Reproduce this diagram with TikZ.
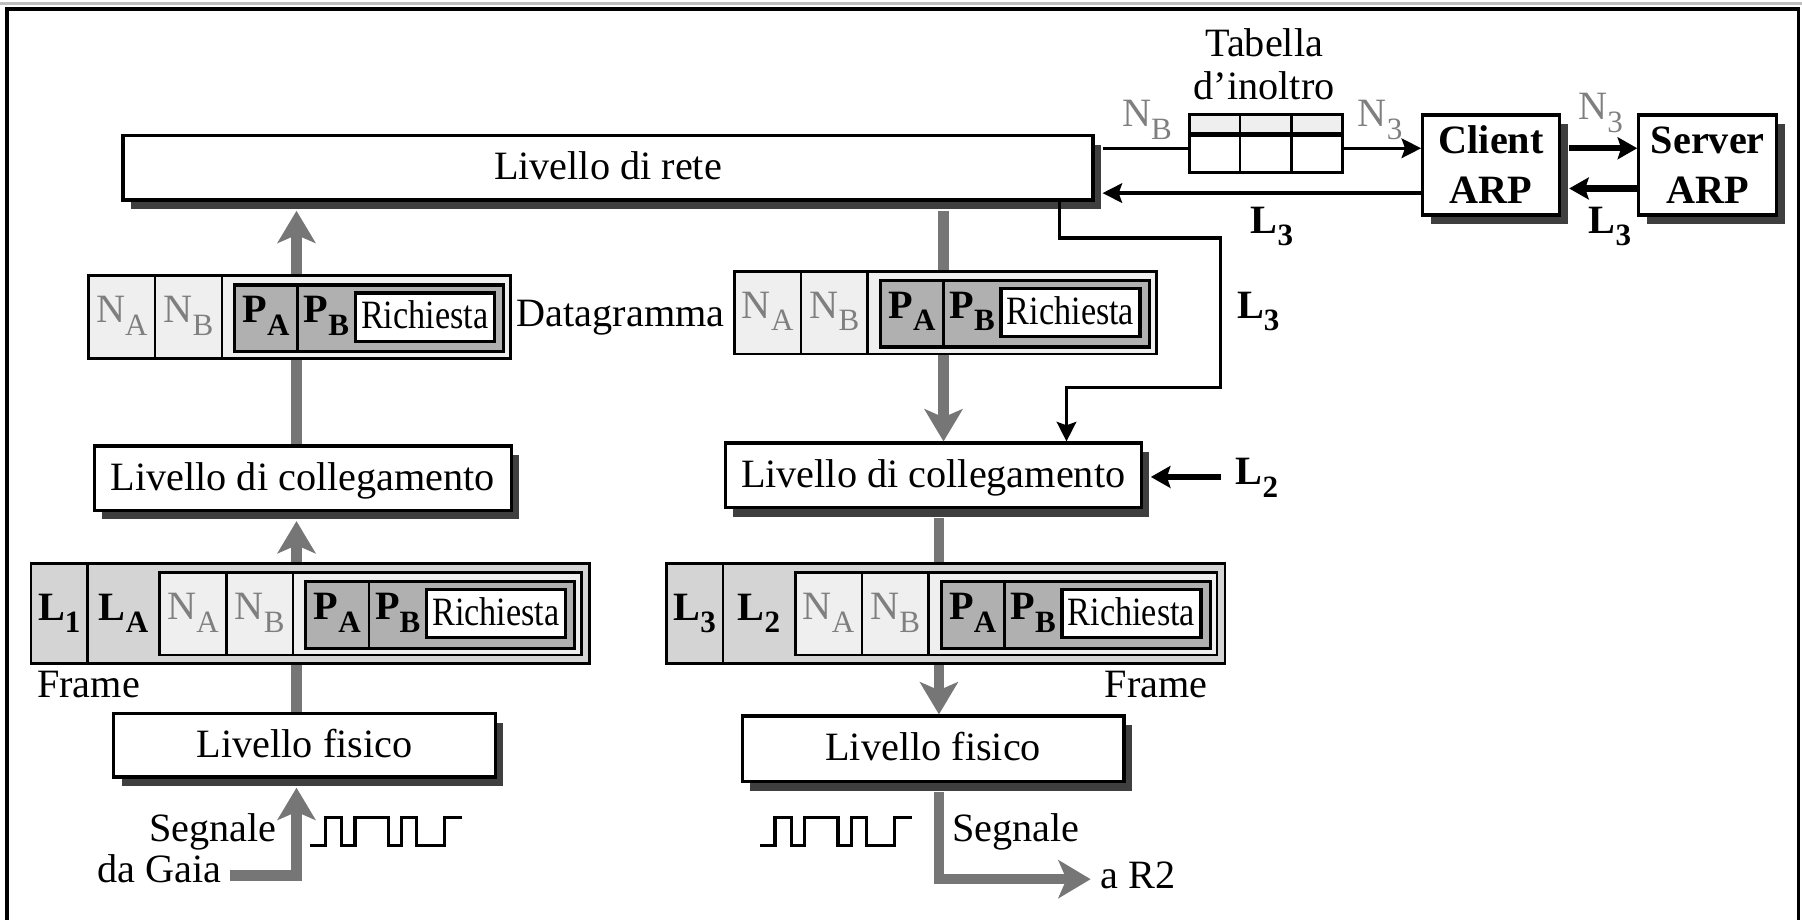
\documentclass[tikz,border=0pt]{standalone}
\usepackage{fontspec}
\setmainfont{Liberation Serif}
\usepackage{graphicx}
\usetikzlibrary{arrows.meta,calc,shadows}
\definecolor{Lfill}{HTML}{D4D4D4}
\definecolor{Nfill}{HTML}{EFEFEF}
\definecolor{Pfill}{HTML}{B0B0B0}
\definecolor{shadowc}{HTML}{3F3F3F}
\definecolor{arrg}{HTML}{767676}
\definecolor{ntext}{HTML}{7F7F7F}
\newcommand{\sbs}[1]{\raisebox{-5.5pt}{\fontsize{13.5pt}{13.5pt}\selectfont #1}}
\newcommand{\Nl}[1]{\textcolor{ntext}{N\sbs{#1}}}
\newcommand{\Pl}[1]{\textbf{P\sbs{#1}}}
\newcommand{\Ll}[1]{\textbf{L\sbs{#1}}}
\newcommand{\rich}{\scalebox{0.85}[1]{Richiesta}}
\newcommand{\mydgram}[1]{%
  \filldraw[fill=Nfill, line width=1.2pt] (0,0) rectangle (367,72);
  \draw[line width=1.1pt] (58,0) -- (58,72) (116,0) -- (116,72);
  \filldraw[fill=Pfill, line width=1.4pt] (127,8) rectangle (361,66);
  \draw[line width=1.1pt] (182,8) -- (182,66);
  \filldraw[fill=white, line width=1.4pt] (232,15) rectangle (353,57);
  \node[lbl] (#1na) at (29,41) {\Nl{A}};
  \node[lbl] (#1nb) at (87,41) {\Nl{B}};
  \node[lbl] (#1pa) at (154.5,41) {\Pl{A}};
  \node[lbl] (#1pb) at (207,41) {\Pl{B}};
  \node[lbl] (#1rq) at (292.5,46) {\rich};
}
\newcommand{\myframe}[3]{%
  \filldraw[fill=Lfill, line width=1.2pt] (0,0) rectangle (486,87);
  \draw[line width=1.1pt] (49,0) -- (49,87);
  \node[lbl] (#1la) at (24.5,49.5) {\Ll{#2}};
  \node[lbl] (#1lb) at (80.5,49.5) {\Ll{#3}};
  \begin{scope}[shift={(112,8)}]\mydgram{#1d}\end{scope}
}
\newcommand{\wavepath}{-- ++(13,0) -- ++(0,-25) -- ++(14.3,0) -- ++(0,25) -- ++(11.6,0) -- ++(0,-25) -- ++(29,0) -- ++(0,25) -- ++(11.5,0) -- ++(0,-25) -- ++(13.1,0) -- ++(0,25) -- ++(24.5,0) -- ++(0,-25) -- ++(15,0)}
\begin{document}
\begin{tikzpicture}[x=0.5pt,y=-0.5pt,
  font=\fontsize{17.5pt}{21pt}\selectfont,
  layer/.style={draw, line width=1.4pt, fill=white, inner sep=0pt, text height=13pt, text depth=2.5pt,
     drop shadow={shadow xshift=3.5pt, shadow yshift=-4pt, fill=shadowc, opacity=1}},
  lbl/.style={inner sep=0pt, anchor=base},
  garrow/.style={draw=arrg, line width=4.6pt, -{Stealth[length=14pt,width=16.5pt,inset=3.5pt]}},
  barrow/.style={draw=black, line width=1.5pt, -{Stealth[length=8.5pt,width=8.5pt,inset=1.5pt]}},
  tarrow/.style={draw=black, line width=2.7pt, -{Stealth[length=8.5pt,width=9.5pt,inset=1.5pt]}},
]
\useasboundingbox (0,0) rectangle (1568,800);
% outer frame
\draw[gray!50, line width=1pt] (0,3) -- (1568,3);
\draw[line width=1.5pt] (6,805) -- (6,8) -- (1565,8) -- (1565,805);

% layer boxes
\node[layer, minimum width=422pt, minimum height=28pt] (rete) at (529,146) {Livello di rete};
\node[layer, minimum width=181.5pt, minimum height=28pt] (collL) at (263.5,416) {Livello di collegamento};
\node[layer, minimum width=166pt, minimum height=27.5pt] (fisL) at (265,648.5) {Livello fisico};
\node[layer, minimum width=181pt, minimum height=28pt] (collR) at (812,413.5) {Livello di collegamento};
\node[layer, minimum width=166pt, minimum height=28.5pt] (fisR) at (812,651.5) {Livello fisico};
\node[layer, minimum width=59.5pt, minimum height=43.5pt, text height=, text depth=, align=center,
  font=\bfseries\fontsize{17.5pt}{21.75pt}\selectfont] (client) at (1297.5,143.5) {Client\\ARP};
\node[layer, minimum width=60pt, minimum height=43.5pt, text height=, text depth=, align=center,
  font=\bfseries\fontsize{17.5pt}{21.75pt}\selectfont] (server) at (1486,143.5) {Server\\ARP};

% forwarding table
\fill[white] (1035,100) rectangle (1168,150);
\fill[Nfill] (1035,100) rectangle (1168,116);
\draw[line width=2pt] (1035,117) -- (1168,117);
\draw[line width=1.2pt] (1079,100) -- (1079,150) (1124,100) -- (1124,150);
\node[draw, line width=1.3pt, minimum width=66.5pt, minimum height=25pt, inner sep=0pt] (tab) at (1101.5,125) {};
\node[lbl] (tab1) at (1100,49) {Tabella};
\node[lbl] (tab2) at (1100,87) {d'inoltro};

% helper coordinates
\coordinate (gxL) at (258,0);
\coordinate (gxR) at (821,0);
\coordinate (gxR2) at (817,0);
\coordinate (gaia) at (200,762);
\coordinate (r2) at (949,765);
\coordinate (reteE) at ([xshift=3.5pt]rete.east);
\coordinate (clientE) at ([xshift=3.5pt]client.east);
\coordinate (collRE) at ([xshift=3.5pt]collR.east);
\coordinate (tabL) at ([yshift=-2pt]tab.west);
\coordinate (tabR) at ([yshift=-2pt]tab.east);
\coordinate (cl3) at ([yshift=-12.25pt]client.west);
\coordinate (cs1) at ([yshift=7.25pt]server.west);
\coordinate (cs2) at ([yshift=-10.25pt]server.west);
\coordinate (l3x) at (922,0);
\coordinate (l3p) at (1062,207);
\coordinate (l3q) at (928,337);
\coordinate (l2s) at (1062,415);

% gray data-flow arrows
\draw[garrow, shorten >=4pt] (collL.north -| gxL) -- (rete.south -| gxL);
\draw[garrow, shorten >=4pt] (fisL.north -| gxL) -- (collL.south -| gxL);
\draw[garrow, shorten >=4pt] (gaia) -| (fisL.south -| gxL);
\draw[garrow, shorten <=4pt] (rete.south -| gxR) -- (collR.north -| gxR);
\draw[garrow, shorten <=4pt] (collR.south -| gxR2) -- (fisR.north -| gxR2);
\draw[garrow, shorten <=4pt] (fisR.south -| gxR2) |- (r2);

% black arrows
\draw[line width=1.5pt] (reteE |- tabL) -- (tabL);
\draw[barrow] (tabR) -- (tabR -| client.west);
\draw[barrow] (cl3) -- (cl3 -| reteE);
\draw[tarrow] (cs1 -| clientE) -- (cs1);
\draw[tarrow] (cs2) -- (cs2 -| clientE);
\draw[barrow] (rete.south -| l3x) |- (l3p) |- (l3q) -- (collR.north -| l3q);
\draw[tarrow] (l2s) -- (l2s -| collRE);

% packets
\begin{scope}[shift={(77,240)}]\mydgram{dgL}\end{scope}
\begin{scope}[shift={(639,236)}]\mydgram{dgR}\end{scope}
\begin{scope}[shift={(27,490)}]\myframe{frL}{1}{A}\end{scope}
\begin{scope}[shift={(580,490)}]\myframe{frR}{3}{2}\end{scope}

% square waves
\draw[line width=1.4pt] (270,736) \wavepath;
\draw[line width=1.4pt] (661.3,736) \wavepath;

% labels
\node[lbl, anchor=base west] (lnb) at (976,110) {\Nl{B}};
\node[lbl, anchor=base west] (ln3a) at (1181,110) {\Nl{3}};
\node[lbl, anchor=base west] (ln3b) at (1373,104) {\Nl{3}};
\node[lbl, anchor=base west] (ll3a) at (1088,203) {\Ll{3}};
\node[lbl, anchor=base west] (ll3b) at (1382,203) {\Ll{3}};
\node[lbl, anchor=base west] (ll3c) at (1076,277) {\Ll{3}};
\node[lbl, anchor=base west] (ll2) at (1075,422) {\Ll{2}};
\node[lbl] (dgtxt) at (540,284) {Datagramma};
\node[lbl, anchor=base west] (frtxtL) at (32,607) {Frame};
\node[lbl, anchor=base east] (frtxtR) at (1051,607) {Frame};
\node[lbl, anchor=base east] (segL) at (241,732) {Segnale};
\node[lbl, anchor=base east] (gaiaT) at (193,768) {da Gaia};
\node[lbl, anchor=base west] (segR) at (828,732) {Segnale};
\node[lbl, anchor=base west] (r2T) at (957,773) {a R2};
\end{tikzpicture}
\end{document}
